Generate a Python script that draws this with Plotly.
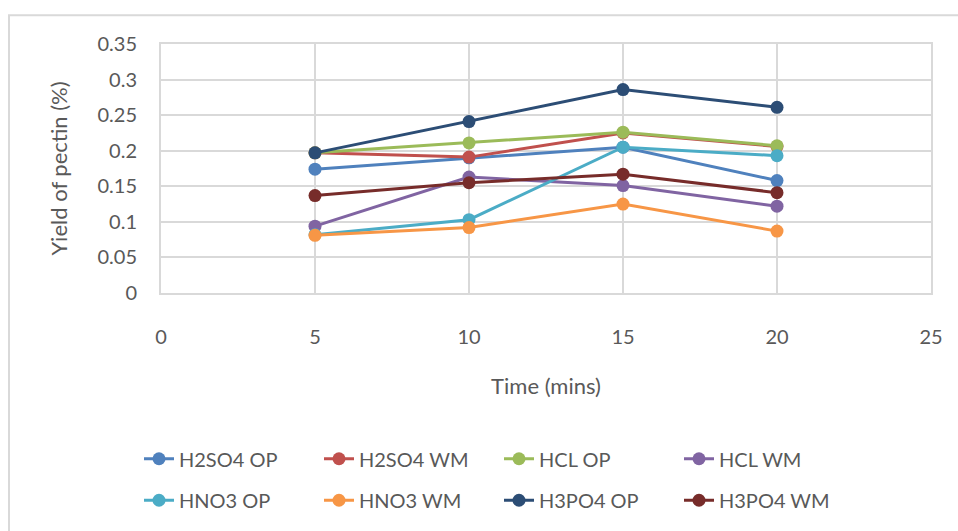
import plotly.graph_objects as go

time_mins = [5, 10, 15, 20]
series_names = ["H2SO4 OP", "H2SO4 WM", "HCL OP", "HCL WM",
                "HNO3 OP", "HNO3 WM", "H3PO4 OP", "H3PO4 WM"]
h2so4_op = [0.174, 0.190, 0.205, 0.158]
h2so4_wm = [0.197, 0.191, 0.225, 0.206]
hcl_op = [0.197, 0.211, 0.226, 0.207]
hcl_wm = [0.094, 0.163, 0.151, 0.122]
hno3_op = [0.082, 0.103, 0.205, 0.193]
hno3_wm = [0.081, 0.092, 0.125, 0.087]
h3po4_op = [0.197, 0.241, 0.286, 0.261]
h3po4_wm = [0.137, 0.155, 0.167, 0.141]
series_values = [h2so4_op, h2so4_wm, hcl_op, hcl_wm,
                 hno3_op, hno3_wm, h3po4_op, h3po4_wm]
colors = ["#4F81BD", "#C0504D", "#9BBB59", "#8064A2",
          "#4BACC6", "#F79646", "#2C4D75", "#772C2A"]
x_ticks = [0, 5, 10, 15, 20, 25]
y_ticks = [0, 0.05, 0.1, 0.15, 0.2, 0.25, 0.3, 0.35]
y_tick_labels = ["0", "0.05", "0.1", "0.15", "0.2", "0.25", "0.3", "0.35"]

FONT = "Lato, 'Open Sans', sans-serif"
TXT = "#595959"

fig = go.Figure()
for i, (name, vals, col) in enumerate(zip(series_names, series_values, colors)):
    fig.add_trace(go.Scatter(
        x=time_mins, y=vals, name=name, mode="lines+markers",
        line=dict(color=col, width=3),
        marker=dict(color=col, size=13),
        legend="legend" if i < 4 else "legend2",
    ))

L, R, T, B = 161, 27, 44, 235
W, H = 958, 531
pw, ph = W - L - R, H - T - B

def px_x(p):
    return (p - L) / pw

def px_y(p):
    return (H - B - p) / ph

fig.update_layout(
    width=W, height=H,
    margin=dict(l=L, r=R, t=T, b=B),
    paper_bgcolor="white", plot_bgcolor="white",
    font=dict(family=FONT, size=20, color=TXT),
    xaxis=dict(
        range=[0, 25], tickvals=x_ticks, showgrid=True, gridcolor="#d9d9d9", gridwidth=1.5,
        zeroline=False, showline=True, linecolor="#d9d9d9", linewidth=2, mirror=True,
        ticks="", ticklabelstandoff=25, tickfont=dict(size=20, color=TXT),
        title=dict(text="Time (mins)", standoff=32, font=dict(size=22, color=TXT)),
    ),
    yaxis=dict(
        range=[0, 0.35], tickvals=y_ticks, ticktext=y_tick_labels, showgrid=True,
        gridcolor="#d9d9d9", gridwidth=1.5,
        zeroline=False, showline=True, linecolor="#d9d9d9", linewidth=2, mirror=True,
        ticks="", ticklabelstandoff=18, tickfont=dict(size=20, color=TXT),
        title=dict(text="Yield of pectin (%)", standoff=24, font=dict(size=22, color=TXT)),
    ),
    legend=dict(orientation="h", x=px_x(139), y=px_y(444), xanchor="left", yanchor="top",
                entrywidth=135, entrywidthmode="pixels", font=dict(size=20, color=TXT),
                bgcolor="rgba(0,0,0,0)"),
    legend2=dict(orientation="h", x=px_x(139), y=px_y(486), xanchor="left", yanchor="top",
                 entrywidth=135, entrywidthmode="pixels", font=dict(size=20, color=TXT),
                 bgcolor="rgba(0,0,0,0)"),
    shapes=[dict(type="rect", xref="paper", yref="paper",
                 x0=px_x(9), x1=px_x(990), y0=px_y(560), y1=px_y(15),
                 line=dict(color="#d9d9d9", width=2), layer="below")],
)

fig.write_html("out.html")
